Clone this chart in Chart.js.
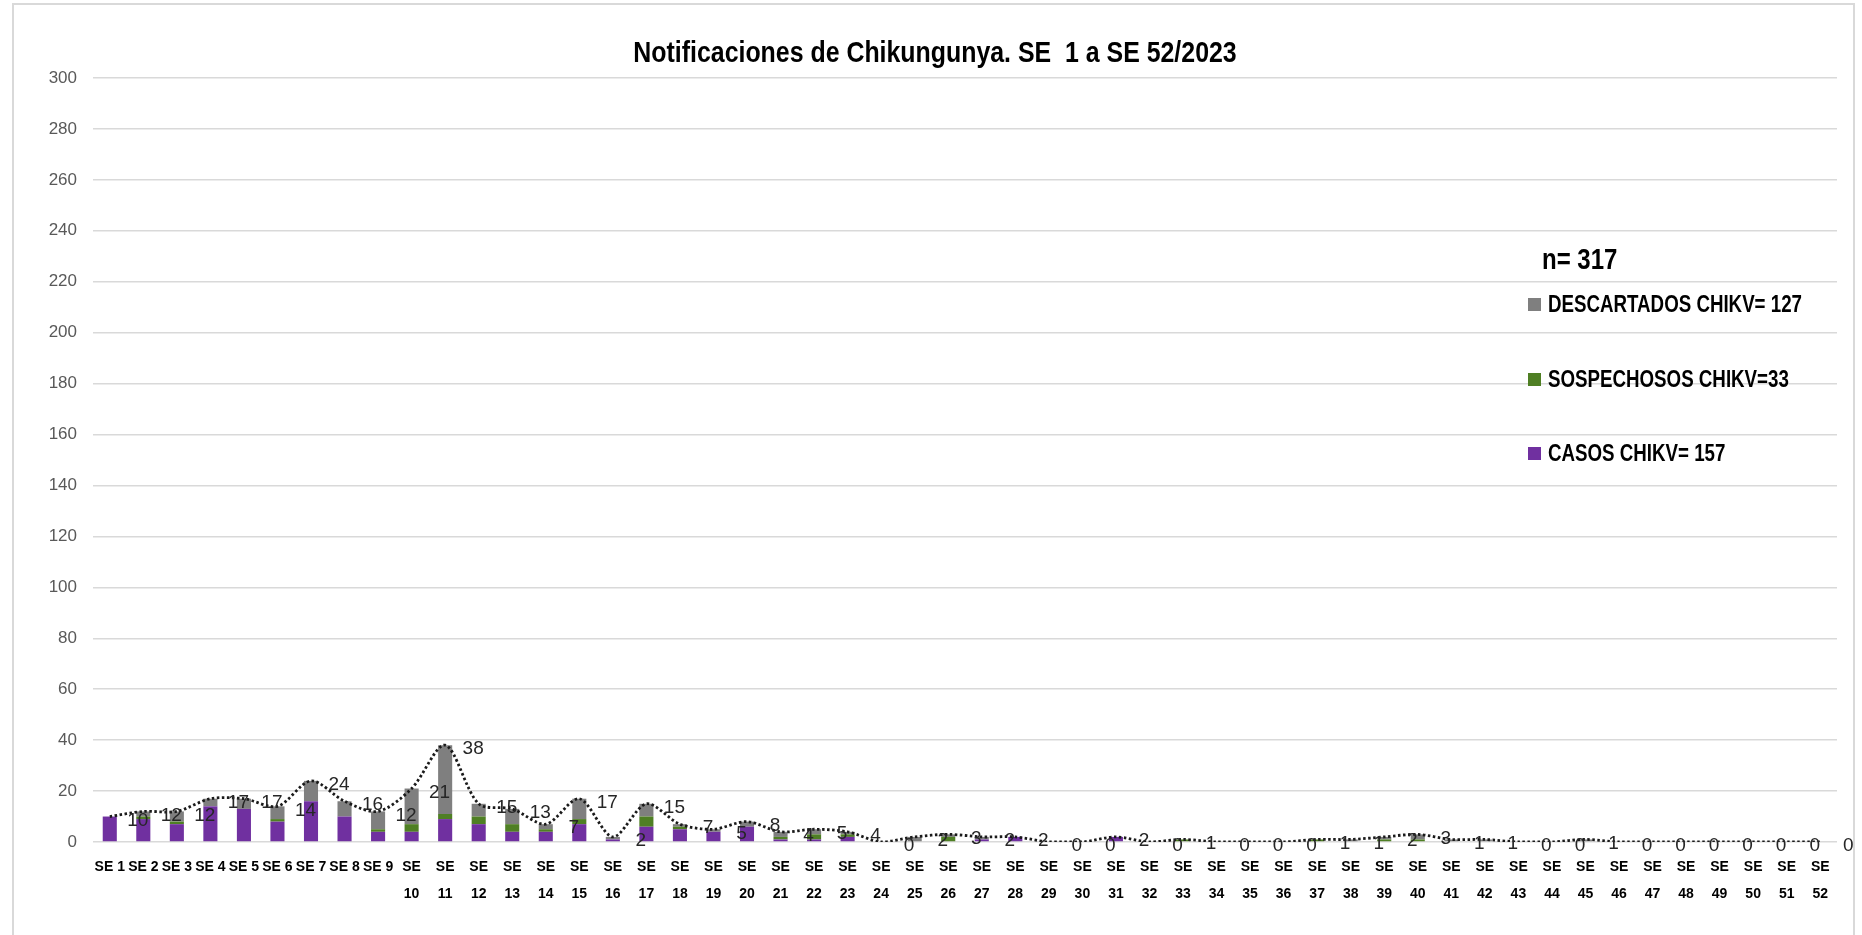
<!DOCTYPE html>
<html>
<head>
<meta charset="utf-8">
<script src="https://cdn.jsdelivr.net/npm/chart.js@4/dist/chart.umd.min.js"></script>
<style>
  html, body { margin: 0; padding: 0; background: #fff; }
  #marco { position: absolute; left: 12px; top: 3px; width: 1843px; height: 950px; border: 2px solid #d9d9d9; box-sizing: border-box; }
  #caja { position: absolute; left: 0; top: 0; width: 1862px; height: 935px; }
</style>
</head>
<body>
<div id="marco"></div>
<div id="caja"><canvas id="grafico"></canvas></div>
<script>
// Semanas epidemiológicas
const semanas = ['SE 1','SE 2','SE 3','SE 4','SE 5','SE 6','SE 7','SE 8','SE 9','SE 10',
  'SE 11','SE 12','SE 13','SE 14','SE 15','SE 16','SE 17','SE 18','SE 19','SE 20',
  'SE 21','SE 22','SE 23','SE 24','SE 25','SE 26','SE 27','SE 28','SE 29','SE 30',
  'SE 31','SE 32','SE 33','SE 34','SE 35','SE 36','SE 37','SE 38','SE 39','SE 40',
  'SE 41','SE 42','SE 43','SE 44','SE 45','SE 46','SE 47','SE 48','SE 49','SE 50',
  'SE 51','SE 52'];

// Series
const casos = [10,9,7,14,13,8,16,10,4,4, 9,7,4,4,7,1,6,5,4,6, 1,1,2,0,0,0,1,2,0,0,
  2,0,0,0,0,0,0,0,0,0, 0,0,0,0,0,0,0,0,0,0, 0,0];
const sospechosos = [0,1,1,0,0,1,0,0,1,3, 2,3,3,1,2,0,4,1,0,0, 1,2,1,0,0,2,0,0,0,0,
  0,0,1,0,0,0,1,0,1,1, 0,0,0,0,0,0,0,0,0,0, 0,0];
const descartados = [0,2,4,3,4,5,8,6,7,14, 27,5,6,2,8,1,5,1,1,2, 2,2,1,0,2,1,1,0,0,0,
  0,0,0,0,0,0,0,1,1,2, 1,1,0,0,1,0,0,0,0,0, 0,0];
const totales = [10,12,12,17,17,14,24,16,12,21, 38,15,13,7,17,2,15,7,5,8, 4,5,4,0,2,3,2,2,0,0,
  2,0,1,0,0,0,1,1,2,3, 1,1,0,0,1,0,0,0,0,0, 0,0];

const titulo = 'Notificaciones de Chikungunya. SE  1 a SE 52/2023';
const totalN = 'n= 317';
const leyenda = [
  { texto: 'DESCARTADOS CHIKV= 127', color: '#7f7f7f' },
  { texto: 'SOSPECHOSOS CHIKV=33', color: '#4f7f24' },
  { texto: 'CASOS CHIKV= 157', color: '#7030a0' }
];
const yTicks = [0, 300, 20];

const fuente = "'Liberation Sans', Arial, sans-serif";

// texto "angosto": se comprime en horizontal
function textoAngosto(ctx, txt, x, y, escala) {
  ctx.save();
  ctx.translate(x, y);
  ctx.scale(escala, 1);
  ctx.fillText(txt, 0, 0);
  ctx.restore();
}

// Titulo, leyenda y etiquetas de datos
const extras = {
  id: 'extras',
  afterDatasetsDraw(chart) {
    const ctx = chart.ctx;
    ctx.save();
    // etiquetas de la linea de totales
    const meta = chart.getDatasetMeta(3);
    ctx.font = '19px ' + fuente;
    ctx.fillStyle = '#262626';
    ctx.textAlign = 'center';
    ctx.textBaseline = 'middle';
    meta.data.forEach((p, i) => {
      ctx.fillText(String(totales[i]), p.x + 28, p.y + 4);
    });
    // titulo
    ctx.font = 'bold 30px ' + fuente;
    ctx.fillStyle = '#000';
    textoAngosto(ctx, titulo, 935, 54, 0.83);
    // n total
    ctx.textAlign = 'left';
    ctx.font = 'bold 30px ' + fuente;
    textoAngosto(ctx, totalN, 1542, 261, 0.8);
    // leyenda
    const ys = [304, 379, 453];
    ctx.font = 'bold 24px ' + fuente;
    leyenda.forEach((l, i) => {
      ctx.fillStyle = l.color;
      ctx.fillRect(1528, ys[i] - 6, 13, 13);
      ctx.fillStyle = '#000';
      textoAngosto(ctx, l.texto, 1548, ys[i] + 1, 0.78);
    });
    ctx.restore();
  }
};

const ctx = document.getElementById('grafico').getContext('2d');
const grafico = new Chart(ctx, {
  type: 'bar',
  data: {
    labels: semanas,
    datasets: [
      { label: 'CASOS CHIKV', data: casos, backgroundColor: '#7030a0', stack: 'a', order: 2 },
      { label: 'SOSPECHOSOS CHIKV', data: sospechosos, backgroundColor: '#4f7f24', stack: 'a', order: 2 },
      { label: 'DESCARTADOS CHIKV', data: descartados, backgroundColor: '#7f7f7f', stack: 'a', order: 2 },
      {
        type: 'line', label: 'Total', data: totales, stack: 'total', order: 1,
        borderColor: '#1a1a1a', borderWidth: 2.8, borderDash: [2.5, 2.5],
        tension: 0.3, pointRadius: 0, fill: false
      }
    ]
  },
  options: {
    responsive: true,
    maintainAspectRatio: false,
    animation: false,
    layout: { padding: { top: 78, right: 25, left: 0, bottom: 0 } },
    datasets: { bar: { barPercentage: 0.42, categoryPercentage: 1 } },
    plugins: {
      legend: { display: false },
      title: { display: false },
      tooltip: { enabled: false }
    },
    scales: {
      x: {
        stacked: true,
        grid: { display: false, drawTicks: false },
        border: { display: false },
        afterFit(s) { s.height = 93; },
        ticks: {
          autoSkip: false, maxRotation: 0, padding: 12, color: '#000',
          font: { family: fuente, size: 14, weight: 'bold', lineHeight: 1.93 },
          callback(v, i) {
            const t = semanas[i];
            return i < 9 ? t : t.split(' ');
          }
        }
      },
      y: {
        stacked: true,
        min: yTicks[0], max: yTicks[1],
        afterFit(s) { s.width = 93; },
        grid: { color: '#d9d9d9', lineWidth: 1.5, drawTicks: false },
        border: { display: false },
        ticks: {
          stepSize: yTicks[2], padding: 16, color: '#595959',
          font: { family: fuente, size: 17 }
        }
      }
    }
  },
  plugins: [extras]
});
</script>
</body>
</html>
